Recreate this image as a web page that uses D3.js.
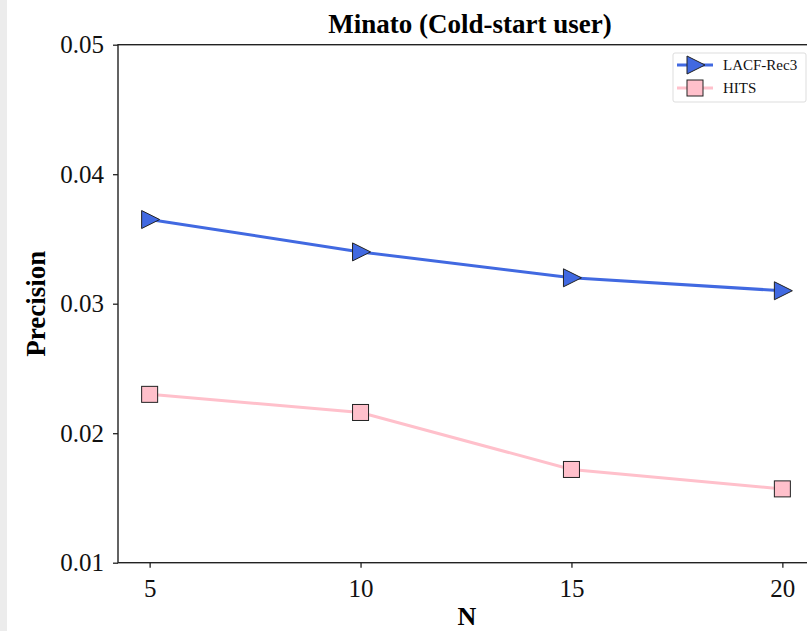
<!DOCTYPE html>
<html>
<head>
<meta charset="utf-8">
<script src="https://cdn.jsdelivr.net/npm/d3@7"></script>
<style>
  body { margin: 0; background: #fff; }
  svg { display: block; }
</style>
</head>
<body>
<div id="chart"></div>
<script>
var nValues = [5, 10, 15, 20];
var lacfRec3 = [0.0365, 0.0340, 0.0320, 0.0310];
var hits = [0.0230, 0.0216, 0.0172, 0.0157];
var yTicks = [0.01, 0.02, 0.03, 0.04, 0.05];
var seriesNames = ["LACF-Rec3", "HITS"];

var W = 807, H = 631;
var plotL = 118, plotR = 814, plotT = 44.7, plotB = 562.7;

var svg = d3.select("#chart").append("svg")
    .attr("width", W)
    .attr("height", H);

// light strip at the left edge
svg.append("rect")
    .attr("x", 0).attr("y", 0)
    .attr("width", 7).attr("height", H)
    .attr("fill", "#ececec");

var x = d3.scaleLinear().domain([4.25, 20.75]).range([plotL, plotR]);
var y = d3.scaleLinear().domain([0.01, 0.05]).range([plotB, plotT]);

var font = "'Liberation Serif', 'Times New Roman', serif";

// axes
var xAxis = svg.append("g")
    .attr("transform", "translate(0," + plotB + ")")
    .call(d3.axisBottom(x).tickValues(nValues).tickSize(5).tickPadding(6).tickFormat(d3.format("d")));
var yAxis = svg.append("g")
    .attr("transform", "translate(" + plotL + ",0)")
    .call(d3.axisLeft(y).tickValues(yTicks).tickSize(5).tickPadding(9).tickFormat(d3.format(".2f")));

[xAxis, yAxis].forEach(function(a) {
  a.select(".domain").remove();
  a.selectAll("line").attr("stroke", "#222").attr("stroke-width", 1.3);
  a.selectAll("text")
    .attr("font-family", font)
    .attr("font-size", "25px")
    .attr("fill", "#111");
});
xAxis.selectAll("text").attr("dy", "0.95em");

// spines
svg.append("rect")
    .attr("x", plotL).attr("y", plotT)
    .attr("width", plotR - plotL).attr("height", plotB - plotT)
    .attr("fill", "none")
    .attr("stroke", "#222")
    .attr("stroke-width", 1.4);

var line = d3.line()
    .x(function(d, i) { return x(nValues[i]); })
    .y(function(d) { return y(d); });

svg.append("path")
    .datum(hits)
    .attr("d", line)
    .attr("fill", "none")
    .attr("stroke", "pink")
    .attr("stroke-width", 3);

svg.append("path")
    .datum(lacfRec3)
    .attr("d", line)
    .attr("fill", "none")
    .attr("stroke", "royalblue")
    .attr("stroke-width", 3);

var tri = "M-8,-9 L10,0 L-8,9 Z";

svg.selectAll(".tri")
    .data(lacfRec3)
    .enter().append("path")
      .attr("class", "tri")
      .attr("d", tri)
      .attr("transform", function(d, i) { return "translate(" + x(nValues[i]) + "," + y(d) + ")"; })
      .attr("fill", "royalblue")
      .attr("stroke", "#222")
      .attr("stroke-width", 1);

svg.selectAll(".sq")
    .data(hits)
    .enter().append("rect")
      .attr("class", "sq")
      .attr("x", function(d, i) { return x(nValues[i]) - 8; })
      .attr("y", function(d) { return y(d) - 8; })
      .attr("width", 16)
      .attr("height", 16)
      .attr("fill", "pink")
      .attr("stroke", "#222")
      .attr("stroke-width", 1);

// title and labels
svg.append("text")
    .attr("x", 470)
    .attr("y", 33)
    .attr("text-anchor", "middle")
    .attr("font-family", font)
    .attr("font-weight", "bold")
    .attr("font-size", "27px")
    .text("Minato (Cold-start user)");

svg.append("text")
    .attr("x", 467)
    .attr("y", 625)
    .attr("text-anchor", "middle")
    .attr("font-family", font)
    .attr("font-weight", "bold")
    .attr("font-size", "26px")
    .text("N");

svg.append("text")
    .attr("transform", "translate(45," + ((plotT + plotB) / 2) + ") rotate(-90)")
    .attr("text-anchor", "middle")
    .attr("font-family", font)
    .attr("font-weight", "bold")
    .attr("font-size", "27px")
    .text("Precision");

// legend
var legend = svg.append("g").attr("transform", "translate(673,53)");
legend.append("rect")
    .attr("x", 0).attr("y", 0)
    .attr("width", 133).attr("height", 49)
    .attr("rx", 2)
    .attr("fill", "#fff")
    .attr("stroke", "#ddd")
    .attr("stroke-width", 1);

var colors = ["royalblue", "pink"];
seriesNames.forEach(function(name, i) {
  var g = legend.append("g").attr("transform", "translate(0," + (12 + i * 23) + ")");
  g.append("line")
    .attr("x1", 4).attr("x2", 40)
    .attr("stroke", colors[i]).attr("stroke-width", 3);
  if (i === 0) {
    g.append("path").attr("d", tri).attr("transform", "translate(22,0)")
      .attr("fill", "royalblue").attr("stroke", "#222").attr("stroke-width", 1);
  } else {
    g.append("rect").attr("x", 14).attr("y", -8).attr("width", 16).attr("height", 16)
      .attr("fill", "pink").attr("stroke", "#222").attr("stroke-width", 1);
  }
  g.append("text")
    .attr("x", 50).attr("y", 5)
    .attr("font-family", font)
    .attr("font-size", "15px")
    .attr("fill", "#111")
    .text(name);
});
</script>
</body>
</html>
